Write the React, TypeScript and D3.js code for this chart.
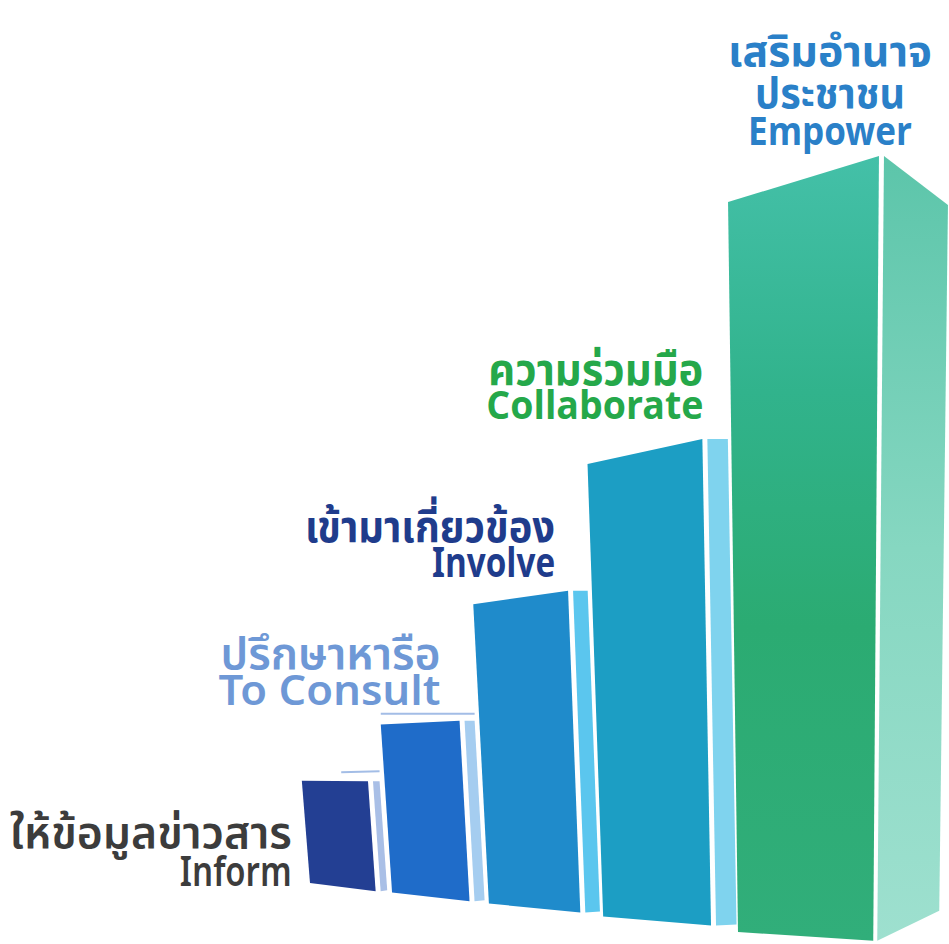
import React from "react";
import * as d3 from "d3";

// ---- data ----
const stagesEn = ["Inform", "To Consult", "Involve", "Collaborate", "Empower"];
const stagesTh = ["ให้ข้อมูลข่าวสาร", "ปรึกษาหารือ", "เข้ามาเกี่ยวข้อง", "ความร่วมมือ", "เสริมอำนาจ"];
const stagesTh2 = ["", "", "", "", "ประชาชน"];
const levels = [14, 23, 41, 62, 100];

// ---- styles ----
const frontColors = ["#233f93", "#1f6cc9", "#1f8bcb", "#1c9ec4", "url(#g5front)"];
const sideColors = ["#a9bfe6", "#a5cdf0", "#5bc6ee", "#7fd3ee", "url(#g5side)"];
const labelColors = ["#3c3c3c", "#6e98d6", "#1f3c8c", "#25a84a", "#2a80c8"];
const labelWeights = [600, 600, 700, 700, 700];
const enWidths = [112, 222, 123, 217, 164];
const thWidths = [282, 220, 250, 215, 204];
const th2Widths = [0, 0, 0, 0, 150];
const enDx = [-10, -19, -13, 1, 0];
const enDy = [3, -16, -14, -20, -11];
const thGap = [38, 36, 35, 34, 37];

const W = 949;
const H = 944;

export default function App() {
  const n = levels.length;
  const r = 1.18;
  const xScale = d3.scaleLinear().domain([1, Math.pow(r, n - 1)]).range([310, 738]);
  const hScale = d3.scaleLinear().domain([0, 100]).range([0, 730]);
  const baseY = d3.scaleLinear().domain([310, 738]).range([883, 932]);
  const lean = (x: number) => 0.08 - 0.000155 * (x - 310);

  const bars = levels.map((v, i) => {
    const last = i === n - 1;
    const xL = xScale(Math.pow(r, i));
    const gap = xScale(Math.pow(r, i + 1)) - xL;
    const w = gap * (last ? 0.85 : 0.8);
    const xR = xL + w;
    const yBL = baseY(xL);
    const slope = 0.125 - 0.00014 * (xL - 310);
    const yBR = yBL + slope * w;
    const hL = hScale(v);
    const hR = hL * 1.075;
    const TL = [xL - lean(xL) * hL, yBL - hL];
    const TR = [xR - lean(xR) * hR, yBR - hR];
    const BL = [xL, yBL];
    const BR = [xR, yBR];
    const sw = last ? 64 : w * (0.1 + 0.03 * i);
    const g = 5;
    const side = last
      ? [
          [TR[0] + g, TR[1]],
          [TR[0] + g + sw, TR[1] + 49],
          [BR[0] + 4 + 62, BR[1] - 30],
          [BR[0] + 4, BR[1]],
        ]
      : [
          [TR[0] + g, TR[1]],
          [TR[0] + g + sw, TR[1]],
          [BR[0] + g + sw, BR[1] - 1],
          [BR[0] + g, BR[1]],
        ];
    return { i, TL, TR, BL, BR, side, sw, w };
  });

  const line = d3.line();

  return (
    <svg
      width={W}
      height={H}
      style={{ position: "absolute", left: 0, top: 0, background: "#ffffff" }}
      fontFamily="'Noto Sans Thai', 'Noto Sans', Lato, sans-serif"
    >
      <defs>
        <linearGradient id="g5front" x1="0" y1="0" x2="0" y2="1">
          <stop offset="0" stopColor="#44c0a8" />
          <stop offset="0.3" stopColor="#31b38c" />
          <stop offset="0.6" stopColor="#2bab72" />
          <stop offset="1" stopColor="#31ae7a" />
        </linearGradient>
        <linearGradient id="g5side" x1="0" y1="0" x2="0" y2="1">
          <stop offset="0" stopColor="#5cc5aa" />
          <stop offset="0.5" stopColor="#86d7c1" />
          <stop offset="1" stopColor="#9ee0cf" />
        </linearGradient>
      </defs>

      {bars.map((b) => (
        <g key={b.i}>
          {b.i < 2 && (
            <line
              x1={b.i === 0 ? b.TL[0] + b.w * 0.6 : b.TL[0]}
              x2={b.TR[0] + b.sw + 5}
              y1={b.TR[1] - (b.i === 0 ? 9 : 7)}
              y2={b.TR[1] - (b.i === 0 ? 10 : 7)}
              stroke="#a3bde6"
              strokeWidth={2}
            />
          )}
          <path d={line([b.TL, b.TR, b.BR, b.BL] as any) + "Z"} fill={frontColors[b.i]} />
          <path d={line(b.side as any) + "Z"} fill={sideColors[b.i]} />
        </g>
      ))}

      {/* labels */}
      {bars.map((b) => {
        const i = b.i;
        const last = i === n - 1;
        const anchor = last ? "middle" : "end";
        const x = last ? 830 : i === 0 ? b.TL[0] + enDx[i] : b.TR[0] + enDx[i];
        const yEn = (i === 0 ? b.BL[1] : b.TR[1]) + enDy[i];
        return (
          <g key={"l" + i} fill={labelColors[i]} fontWeight={labelWeights[i]} textAnchor={anchor}>
            {last ? (
              <>
                <text x={x} y={yEn - thGap[i] - 42} fontSize={43} textLength={thWidths[i]} lengthAdjust="spacingAndGlyphs">
                  {stagesTh[i]}
                </text>
                <text x={x} y={yEn - thGap[i]} fontSize={43} textLength={th2Widths[i]} lengthAdjust="spacingAndGlyphs">
                  {stagesTh2[i]}
                </text>
              </>
            ) : (
              <text x={x} y={yEn - thGap[i]} fontSize={44} textLength={thWidths[i]} lengthAdjust="spacingAndGlyphs">
                {stagesTh[i]}
              </text>
            )}
            <text x={x} y={yEn} fontSize={i >= 3 ? 40 : 42} textLength={enWidths[i]} lengthAdjust="spacingAndGlyphs">
              {stagesEn[i]}
            </text>
          </g>
        );
      })}
    </svg>
  );
}
